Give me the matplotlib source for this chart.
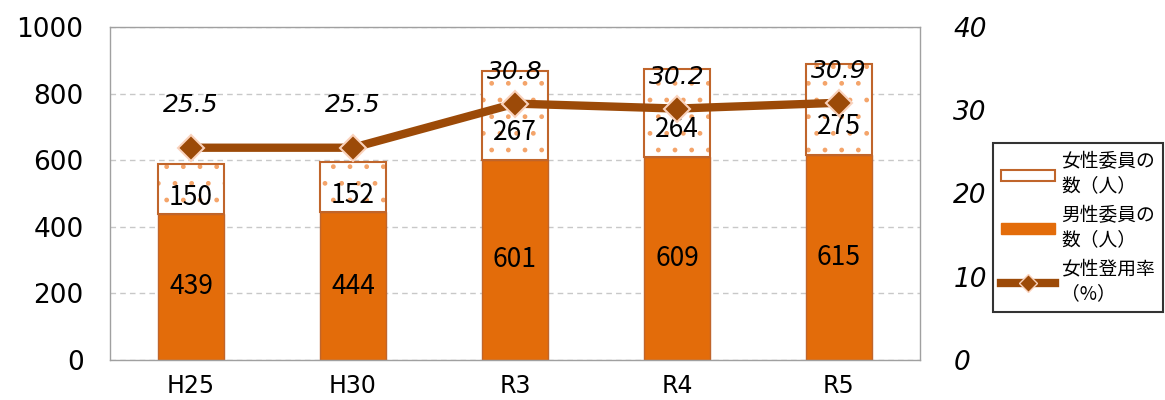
import matplotlib
matplotlib.use("Agg")
import matplotlib.pyplot as plt
from matplotlib.patches import Patch
from matplotlib.lines import Line2D
import numpy as np

categories = ["H25", "H30", "R3", "R4", "R5"]
male = [439, 444, 601, 609, 615]
female = [150, 152, 267, 264, 275]
rate = [25.5, 25.5, 30.8, 30.2, 30.9]

legend_labels = ["女性委員の\n数（人）", "男性委員の\n数（人）", "女性登用率\n（%）"]

plt.rcParams['font.family'] = ['Noto Sans CJK JP', 'DejaVu Sans']

male_color = "#E36C0A"
edge_color = "#C0652B"
dot_color = "#F4A46A"
line_color = "#9C4A08"

fig = plt.figure(figsize=(11.65, 4.0), dpi=100)
ax = fig.add_axes([0.0944, 0.1, 0.6953, 0.8325])
x = np.arange(len(categories))
w = 0.41

# --- bars ---
ax.bar(x, male, w, color=male_color, edgecolor=edge_color, linewidth=1, zorder=2)
ax.bar(x, female, w, bottom=male, color="white", edgecolor=dot_color,
       hatch=".", linewidth=0, zorder=2)
ax.bar(x, female, w, bottom=male, fill=False, edgecolor=edge_color,
       linewidth=1.5, zorder=3)

num_font = dict(fontsize=19, color="black")
for i in range(len(categories)):
    ax.text(x[i], male[i] / 2, str(male[i]), ha="center", va="center", zorder=5, **num_font)
    ax.text(x[i], male[i] + female[i] * 0.28 + 8, str(female[i]), ha="center", va="center",
            zorder=5, **num_font)

ax.set_xlim(-0.5, len(categories) - 0.5)
ax.set_ylim(0, 1000)
ax.set_yticks(range(0, 1001, 200))
ax.set_xticks(x)
ax.set_xticklabels(categories, fontsize=17, family=['DejaVu Sans'])
for t in ax.get_yticklabels():
    t.set_family(['DejaVu Sans'])
ax.tick_params(axis="y", labelsize=19, length=0, pad=19)
ax.tick_params(axis="x", length=0, pad=10)
ax.yaxis.grid(True, color="#C8C8C8", linestyle=(0, (4, 3)), linewidth=1)
ax.set_axisbelow(True)
for s in ax.spines.values():
    s.set_color("#A0A0A0")
    s.set_linewidth(1)

# --- rate line on right axis ---
ax2 = ax.twinx()
ax2.set_ylim(0, 40)
ax2.set_yticks(range(0, 41, 10))
ax2.tick_params(axis="y", length=0, pad=24)
for t in ax2.get_yticklabels():
    t.set_fontsize(19)
    t.set_fontstyle("italic")
    t.set_fontweight("light")
    t.set_family(['DejaVu Sans'])
for s in ax2.spines.values():
    s.set_visible(False)
ax2.plot(x, rate, color=line_color, linewidth=6, marker="D", markersize=13,
         markerfacecolor=line_color, markeredgecolor="#FAD2BC", markeredgewidth=1.5,
         zorder=4)
for i in range(len(categories)):
    off = 31 if rate[i] < 28 else 23
    ax2.annotate(f"{rate[i]}", (x[i], rate[i]), xytext=(0, off), textcoords="offset points",
                 ha="center", va="center", fontsize=18, fontstyle="italic",
                 family=['DejaVu Sans'], zorder=6)

# --- legend ---
handles = [
    Patch(facecolor="white", edgecolor=edge_color, hatch=".", linewidth=1.5),
    Patch(facecolor=male_color, edgecolor=male_color),
    Line2D([0], [0], color=line_color, linewidth=6, marker="D", markersize=9,
           markerfacecolor=line_color, markeredgecolor="#FAD2BC"),
]
leg = fig.legend(handles, legend_labels, loc="upper left", bbox_to_anchor=(0.852, 0.643),
                 fontsize=13.5, frameon=True, fancybox=False, edgecolor="black",
                 handlelength=2.9, handleheight=0.5, labelspacing=0.45, borderpad=0.45,
                 handletextpad=0.3, borderaxespad=0)
leg.get_frame().set_linewidth(1.5)

plt.savefig("out.png", dpi=100)
